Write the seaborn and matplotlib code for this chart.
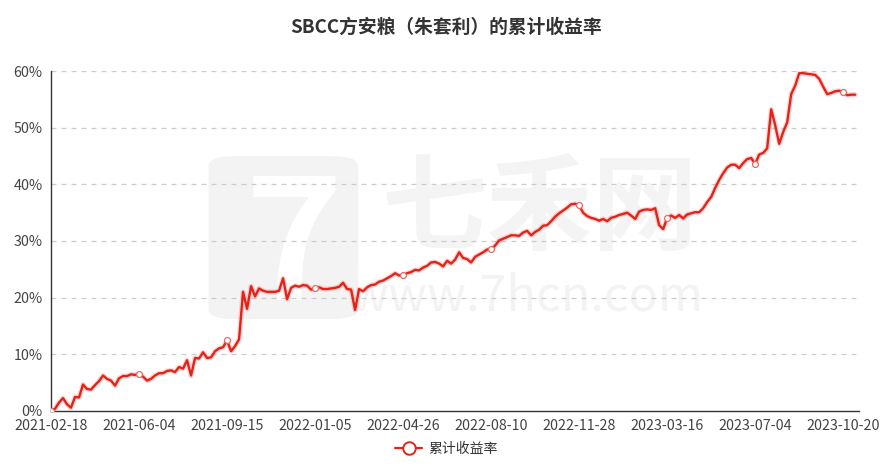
import numpy as np
import matplotlib
matplotlib.use("Agg")
import matplotlib.pyplot as plt
import matplotlib.patheffects as pe
from matplotlib.lines import Line2D
from matplotlib.patches import FancyBboxPatch
from matplotlib.ticker import FuncFormatter
import seaborn as sns

# cumulative return (%), sampled along the trading-day axis
returns = [
    0.0, 0.3, 1.4, 2.2, 1.1, 0.5, 2.4, 2.3, 4.6, 3.8,
    3.7, 4.5, 5.2, 6.2, 5.6, 5.3, 4.4, 5.7, 6.1, 6.1,
    6.4, 6.3, 6.5, 6.0, 5.3, 5.6, 6.2, 6.6, 6.6, 7.0,
    7.1, 6.8, 7.7, 7.4, 8.9, 6.2, 9.3, 9.2, 10.3, 9.3,
    9.4, 10.5, 11.0, 11.2, 12.4, 10.5, 11.4, 12.6, 21.0, 18.0,
    22.0, 20.2, 21.6, 21.2, 21.0, 21.0, 21.0, 21.2, 23.4, 19.7,
    21.7, 22.1, 21.9, 22.2, 22.1, 21.4, 21.6, 21.8, 21.5, 21.5,
    21.6, 21.7, 21.9, 22.6, 21.5, 21.4, 17.8, 21.5, 21.1, 21.8,
    22.2, 22.3, 22.8, 23.0, 23.4, 23.8, 24.3, 23.9, 23.9, 24.3,
    24.5, 24.9, 24.8, 25.3, 25.6, 26.2, 26.3, 26.0, 25.5, 26.5,
    26.0, 26.7, 28.0, 27.0, 26.8, 26.2, 27.2, 27.6, 28.0, 28.5,
    28.5, 29.2, 30.1, 30.4, 30.7, 31.0, 31.0, 30.9, 31.5, 31.8,
    31.0, 31.6, 32.0, 32.7, 32.8, 33.5, 34.3, 34.9, 35.4, 35.9,
    36.5, 36.6, 36.3, 35.0, 34.4, 34.1, 33.9, 33.6, 33.9, 33.5,
    34.1, 34.3, 34.6, 34.8, 35.0, 34.5, 33.9, 35.2, 35.5, 35.6,
    35.5, 35.8, 32.8, 32.1, 34.1, 34.5, 34.1, 34.6, 34.0, 34.7,
    34.9, 35.1, 35.1, 35.8, 36.9, 37.8, 39.4, 40.8, 42.0, 43.0,
    43.5, 43.5, 42.9, 43.8, 44.5, 44.7, 43.6, 45.3, 45.6, 46.4,
    53.3, 50.5, 47.2, 49.3, 51.0, 56.0, 57.5, 59.7, 59.7, 59.6,
    59.5, 59.4, 58.7, 57.3, 56.0, 56.2, 56.5, 56.6, 56.3, 55.8,
    55.9, 55.9,
]
tick_labels = ["2021-02-18", "2021-06-04", "2021-09-15", "2022-01-05", "2022-04-26",
               "2022-08-10", "2022-11-28", "2023-03-16", "2023-07-04", "2023-10-20"]
tick_every = 22
y_ticks = [0, 10, 20, 30, 40, 50, 60]

title = "SBCC方安粮（朱套利）的累计收益率"
series_name = "累计收益率"
red = "#e3231a"

sns.set_style("white")
plt.rcParams["font.family"] = ["Noto Sans CJK SC", "DejaVu Sans"]

fig = plt.figure(figsize=(8.92, 4.67), dpi=100)
ax = fig.add_axes([51 / 892, 56.5 / 467, 808 / 892, 339 / 467])

idx = np.arange(len(returns))

# watermark (logo + site name)
logo = FancyBboxPatch((0.195, 0.27), 0.185, 0.48, transform=ax.transAxes,
                      boxstyle="round,pad=0,rounding_size=0.03", facecolor="#f3f3f3",
                      edgecolor="none", zorder=0)
ax.add_patch(logo)
ax.text(0.30, 0.47, "7", transform=ax.transAxes, fontsize=120, color="white",
        ha="center", va="center", zorder=0, fontweight="bold", style="italic")
ax.text(0.605, 0.59, "七禾网", transform=ax.transAxes, fontsize=76, color="#f4f4f4",
        ha="center", va="center", zorder=0, fontweight="bold")
ax.text(0.589, 0.335, "www.7hcn.com", transform=ax.transAxes, fontsize=35, color="#f3f3f3",
        ha="center", va="center", zorder=0)

glow = [pe.Stroke(linewidth=3.6, foreground=(1, 0.25, 0.2, 0.22)), pe.Normal()]
sns.lineplot(x=idx, y=returns, ax=ax, color=red, linewidth=1.7, zorder=3,
             path_effects=glow)
pts = idx[::tick_every]
sns.scatterplot(x=pts, y=[returns[i] for i in pts], ax=ax, s=18, zorder=4,
                facecolor="white", edgecolor="#e26a6a", linewidth=0.9)

ax.set_xlim(0, (len(returns) - 1) + 0.95)
ax.set_ylim(0, 60)
ax.set_xticks(np.arange(0, len(returns), tick_every))
ax.set_xticklabels(tick_labels)
ax.set_yticks(y_ticks)
ax.yaxis.set_major_formatter(FuncFormatter(lambda v, p: f"{v:.0f}%"))
ax.tick_params(axis="both", labelsize=10.3, colors="#333333", labelcolor="#444444",
               length=4, width=1, direction="out")
ax.tick_params(axis="x", pad=2)
ax.tick_params(axis="y", pad=2)

for y in y_ticks[1:]:
    ax.axhline(y, color="#cccccc", linewidth=0.9, linestyle=(0, (4, 4)), zorder=1)

for s in ["top", "right"]:
    ax.spines[s].set_visible(False)
for s in ["left", "bottom"]:
    ax.spines[s].set_color("#333333")
    ax.spines[s].set_linewidth(1)

ax.set_xlabel("")
ax.set_ylabel("")

fig.text(0.5, 1 - 27 / 467, title, ha="center", va="center", fontsize=13.5,
         fontweight="bold", color="#333333")

handle = Line2D([], [], color=red, linewidth=1.6, marker="o", markersize=9,
                markerfacecolor="white", markeredgecolor=red, markeredgewidth=1.4)
fig.legend([handle], [series_name], loc="center", bbox_to_anchor=(0.5, 1 - 449 / 467),
           frameon=False, fontsize=10, handlelength=2.0, handletextpad=0.4,
           labelcolor="#333333")

fig.savefig("out.png", dpi=100)
